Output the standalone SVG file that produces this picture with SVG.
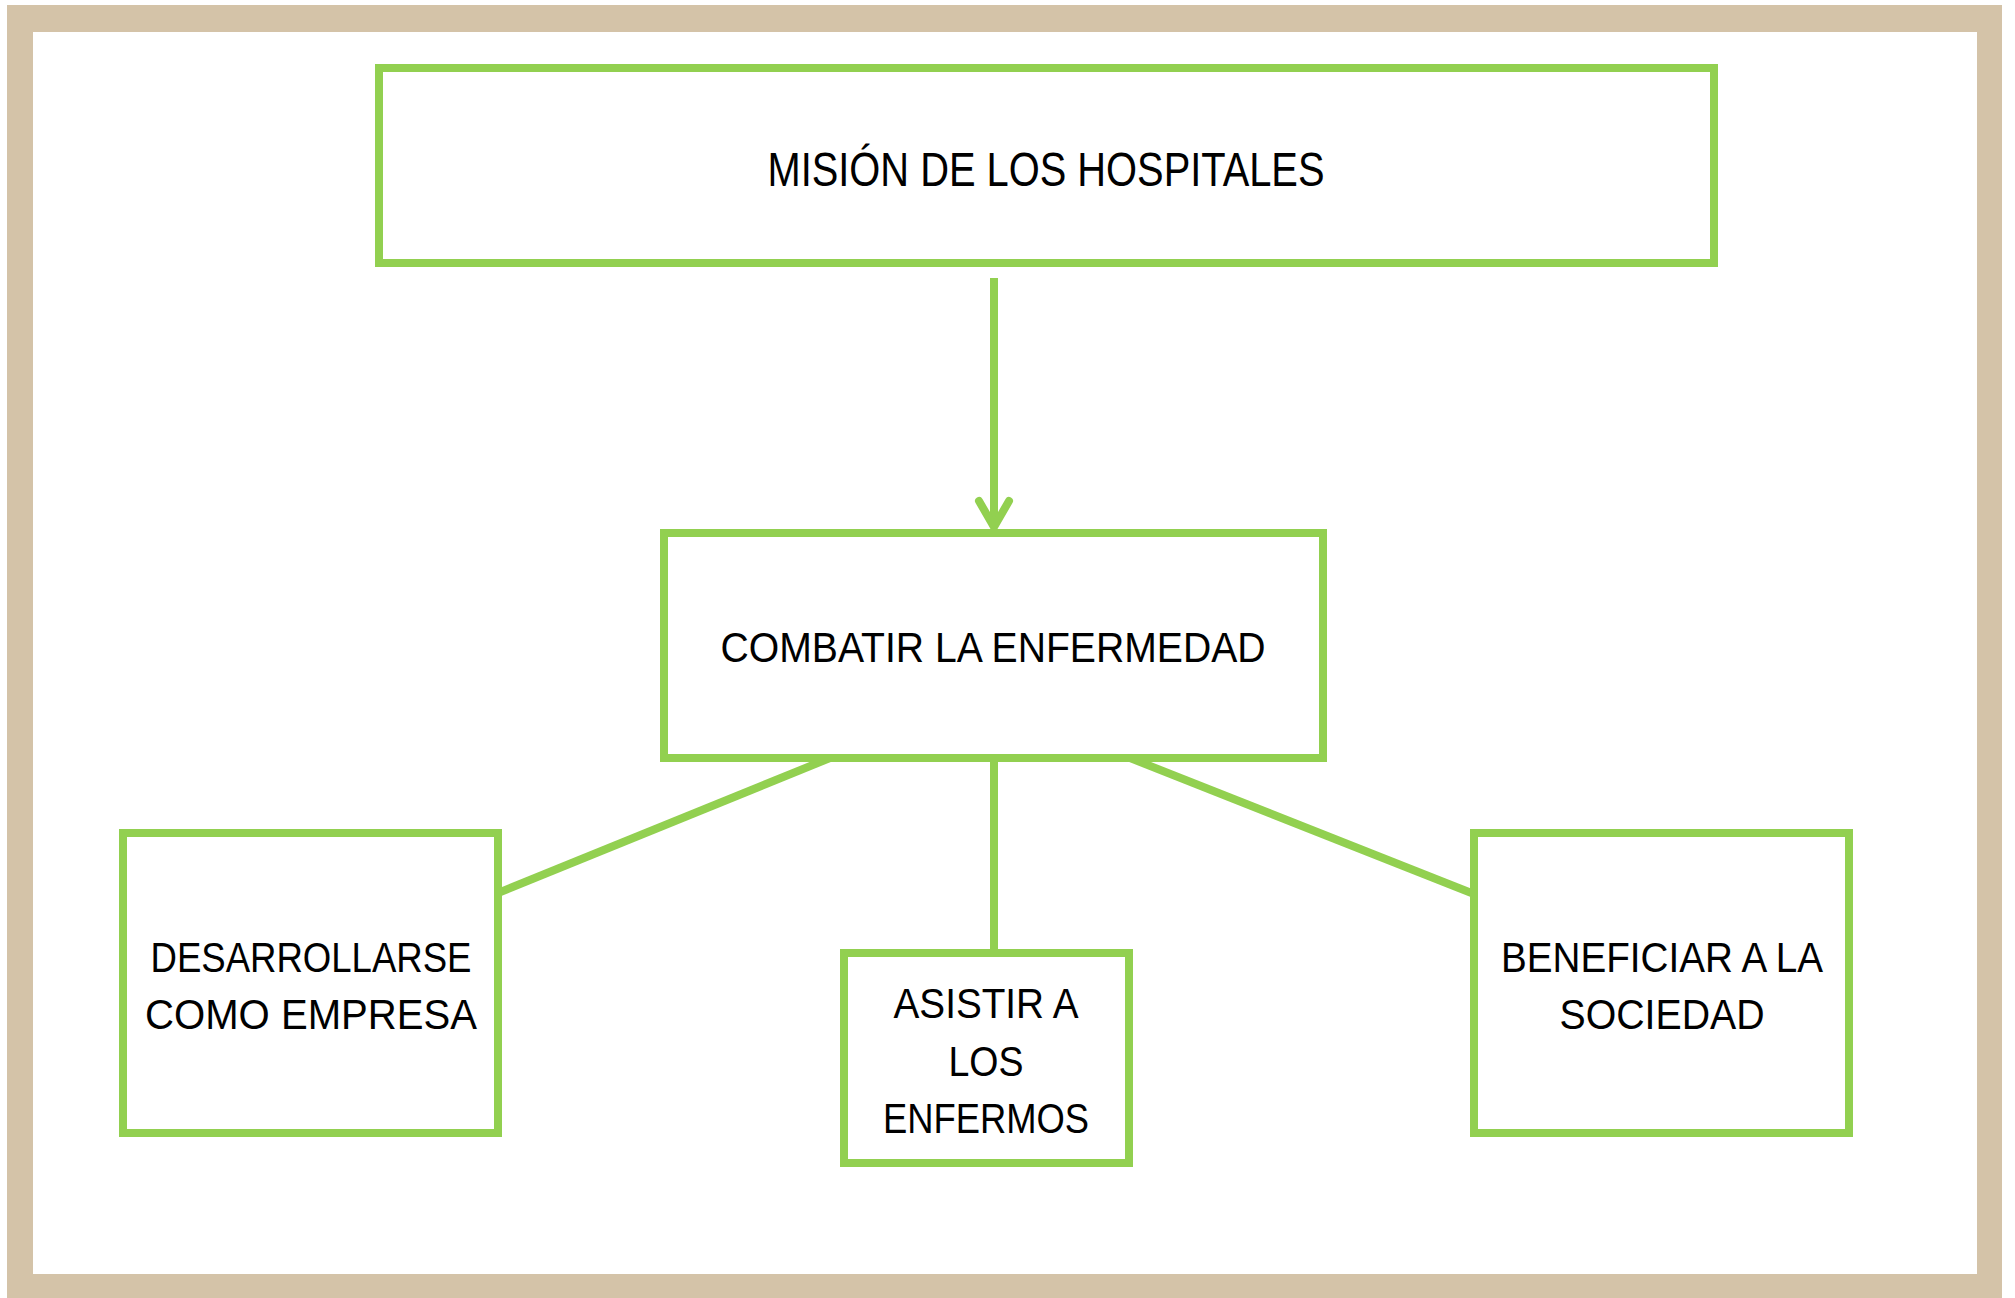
<svg xmlns="http://www.w3.org/2000/svg" width="2015" height="1298" viewBox="0 0 2015 1298">
  <defs>
    <style>
      .box { fill: #FFFFFF; stroke: #92D050; stroke-width: 8; }
      .conn { fill: none; stroke: #92D050; stroke-width: 8; }
      .head { fill: none; stroke: #92D050; stroke-width: 8; stroke-linecap: round; stroke-linejoin: round; }
      .lbl { font-family: "Liberation Sans", Arial, sans-serif; font-size: 43px; fill: #000000; text-anchor: middle; }
    </style>
  </defs>
  <rect x="0" y="0" width="2015" height="1298" fill="#FFFFFF"/>
  <rect x="7" y="5" width="1995" height="1293" fill="#D4C3A8"/>
  <rect x="33" y="32" width="1944" height="1242" fill="#FFFFFF"/>

  <g id="connectors">
    <line class="conn" x1="994" y1="278" x2="994" y2="526"/>
    <polyline class="head" points="979,501 994,527 1009,501"/>
    <line class="conn" x1="830" y1="758" x2="498" y2="893"/>
    <line class="conn" x1="994" y1="762" x2="994" y2="950"/>
    <line class="conn" x1="1130" y1="758" x2="1474" y2="894"/>
  </g>

  <g id="node-mision">
    <rect class="box" x="379" y="68" width="1335" height="195"/>
    <text class="lbl" x="1046" y="186" style="font-size:48px" textLength="557" lengthAdjust="spacingAndGlyphs">MISIÓN DE LOS HOSPITALES</text>
  </g>

  <g id="node-combatir">
    <rect class="box" x="664" y="533" width="659" height="225"/>
    <text class="lbl" x="993" y="662" style="font-size:42px" textLength="545" lengthAdjust="spacingAndGlyphs">COMBATIR LA ENFERMEDAD</text>
  </g>

  <g id="node-desarrollarse">
    <rect class="box" x="123" y="833" width="375" height="300"/>
    <text class="lbl" x="311" y="972" textLength="321" lengthAdjust="spacingAndGlyphs">DESARROLLARSE</text>
    <text class="lbl" x="311" y="1029" textLength="332" lengthAdjust="spacingAndGlyphs">COMO EMPRESA</text>
  </g>

  <g id="node-asistir">
    <rect class="box" x="844" y="953" width="285" height="210"/>
    <text class="lbl" x="986" y="1018" textLength="185" lengthAdjust="spacingAndGlyphs">ASISTIR A</text>
    <text class="lbl" x="986" y="1076" textLength="75" lengthAdjust="spacingAndGlyphs">LOS</text>
    <text class="lbl" x="986" y="1133" textLength="206" lengthAdjust="spacingAndGlyphs">ENFERMOS</text>
  </g>

  <g id="node-beneficiar">
    <rect class="box" x="1474" y="833" width="375" height="300"/>
    <text class="lbl" x="1662" y="972" textLength="322" lengthAdjust="spacingAndGlyphs">BENEFICIAR A LA</text>
    <text class="lbl" x="1662" y="1029" textLength="205" lengthAdjust="spacingAndGlyphs">SOCIEDAD</text>
  </g>
</svg>
